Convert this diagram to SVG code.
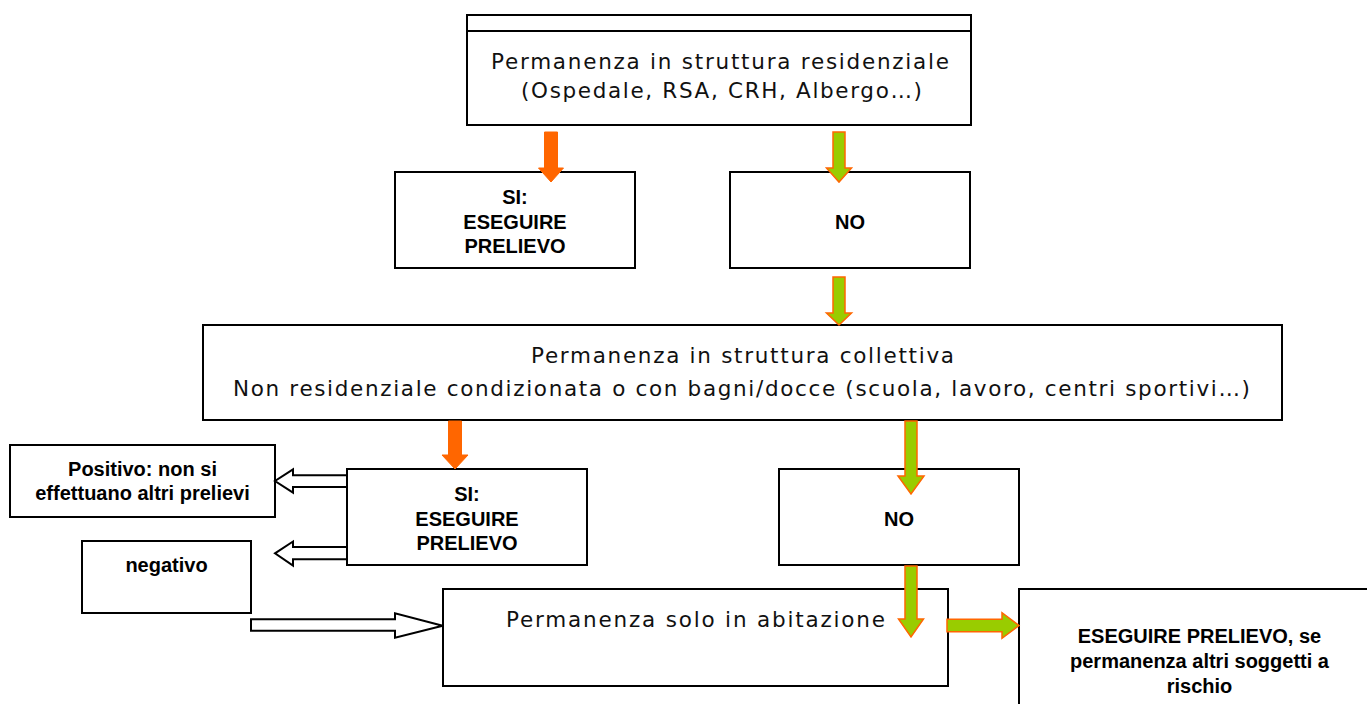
<svg xmlns="http://www.w3.org/2000/svg" width="1367" height="704" viewBox="0 0 1367 704">
  <style>
    .box { fill: #ffffff; stroke: #000000; stroke-width: 2; }
    .lt { font-family: "DejaVu Sans", "Liberation Sans", sans-serif; font-weight: normal; font-size: 21.5px; fill: #111111; }
    .bd { font-family: "Liberation Sans", Arial, sans-serif; font-weight: bold; font-size: 20px; fill: #000000; text-anchor: middle; }
    .orange { fill: #FF6600; stroke: #FF6600; stroke-width: 1; }
    .green { fill: #99CC00; stroke: #FF6600; stroke-width: 1.5; }
    .hollow { fill: #ffffff; stroke: #000000; stroke-width: 2; stroke-linejoin: miter; }
  </style>
  <rect width="1367" height="704" fill="#ffffff"/>

  <g id="node-residenziale">
    <rect class="box" x="467" y="15" width="504" height="110"/>
    <line x1="467" y1="31" x2="971" y2="31" stroke="#000" stroke-width="2"/>
    <text class="lt" x="491" y="69" textLength="458" lengthAdjust="spacing">Permanenza in struttura residenziale</text>
    <text class="lt" x="521" y="98" textLength="401" lengthAdjust="spacing">(Ospedale, RSA, CRH, Albergo…)</text>
  </g>

  <g id="node-si1">
    <rect class="box" x="395" y="172" width="240" height="96"/>
    <text class="bd" x="515" y="204">SI:</text>
    <text class="bd" x="515" y="229">ESEGUIRE</text>
    <text class="bd" x="515" y="253">PRELIEVO</text>
  </g>

  <g id="node-no1">
    <rect class="box" x="730" y="172" width="240" height="96"/>
    <text class="bd" x="850" y="229">NO</text>
  </g>

  <g id="node-collettiva">
    <rect class="box" x="203" y="325" width="1079" height="95"/>
    <text class="lt" x="531" y="363" textLength="423" lengthAdjust="spacing">Permanenza in struttura collettiva</text>
    <text class="lt" x="233" y="396" textLength="1017" lengthAdjust="spacing">Non residenziale condizionata o con bagni/docce (scuola, lavoro, centri sportivi…)</text>
  </g>

  <g id="node-positivo">
    <rect class="box" x="10" y="445" width="265" height="72"/>
    <text class="bd" x="142.5" y="476">Positivo: non si</text>
    <text class="bd" x="142.5" y="500">effettuano altri prelievi</text>
  </g>

  <g id="node-negativo">
    <rect class="box" x="82" y="541" width="169" height="72"/>
    <text class="bd" x="166.5" y="572">negativo</text>
  </g>

  <g id="node-si2">
    <rect class="box" x="347" y="469" width="240" height="96"/>
    <text class="bd" x="467" y="501">SI:</text>
    <text class="bd" x="467" y="526">ESEGUIRE</text>
    <text class="bd" x="467" y="550">PRELIEVO</text>
  </g>

  <g id="node-no2">
    <rect class="box" x="779" y="469" width="240" height="96"/>
    <text class="bd" x="899" y="526">NO</text>
  </g>

  <g id="node-abitazione">
    <rect class="box" x="443" y="589" width="505" height="97"/>
    <text class="lt" x="506" y="627" textLength="379" lengthAdjust="spacing">Permanenza solo in abitazione</text>
  </g>

  <g id="node-eseguire">
    <rect class="box" x="1019" y="589" width="380" height="140"/>
    <text class="bd" x="1199.5" y="643">ESEGUIRE PRELIEVO, se</text>
    <text class="bd" x="1199.5" y="668">permanenza altri soggetti a</text>
    <text class="bd" x="1199.5" y="693">rischio</text>
  </g>

  <g id="connectors">
    <polygon class="orange" points="544.5,132 557.5,132 557.5,168 563.5,168 551,182 538.5,168 544.5,168"/>
    <polygon class="green" points="833,132 845,132 845,168 851.5,168 839,182 826.5,168 833,168"/>
    <polygon class="green" points="833,277 845,277 845,313 851.5,313 839,325 826.5,313 833,313"/>
    <polygon class="orange" points="448.5,421 461.5,421 461.5,455 468,455 455,469 442,455 448.5,455"/>
    <polygon class="green" points="905,421 917,421 917,476 924,476 911,494 898,476 905,476"/>
    <polygon class="green" points="905,566 917,566 917,619 923.5,619 911,637 898.5,619 905,619"/>
    <polygon class="green" points="947,619.3 1002,619.3 1002,612.7 1019,625.5 1002,638.3 1002,631.7 947,631.7"/>
    <polygon class="hollow" points="347,475.3 293,475.3 293,469.3 275,481 293,492.7 293,487 347,487"/>
    <polygon class="hollow" points="347,547 293,547 293,541.5 275,553.3 293,565.5 293,559.3 347,559.3"/>
    <polygon class="hollow" points="251,619.3 395,619.3 395,613.3 442.7,625.7 395,637.7 395,630.7 251,630.7"/>
  </g>
</svg>
